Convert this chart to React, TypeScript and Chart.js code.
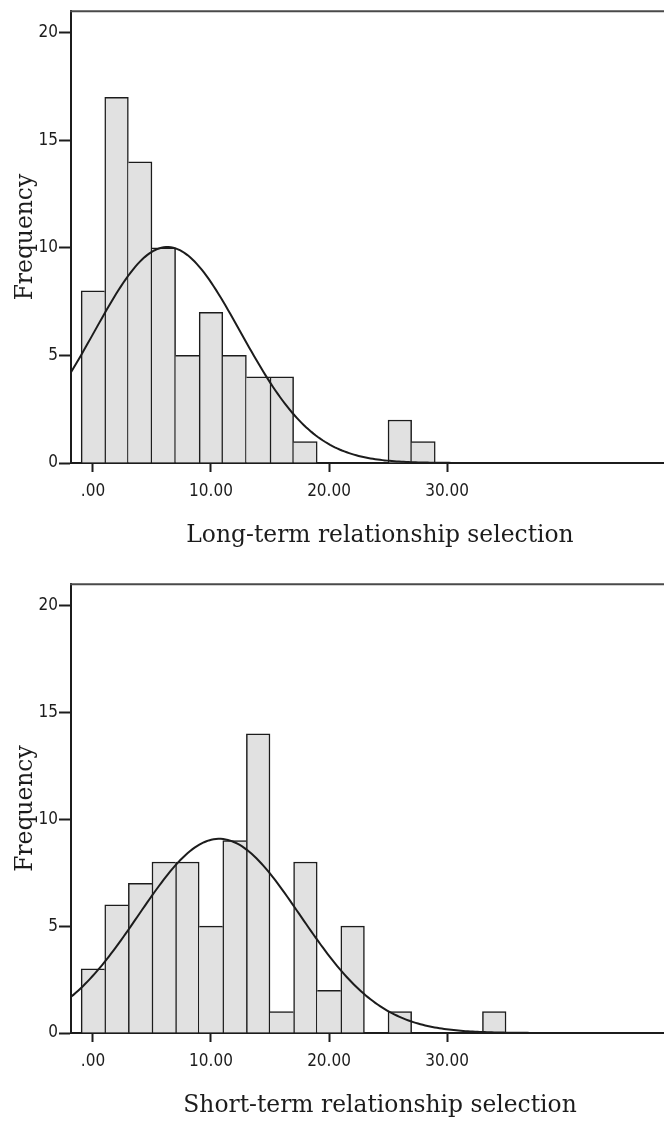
import { useEffect, useRef } from "react";
import { Chart, registerables } from "chart.js";

Chart.register(...registerables);

// Histogram bins are 2 units wide and centred on even values.
const binWidth = 2;

const longBinCenters = [0, 2, 4, 6, 8, 10, 12, 14, 16, 18, 26, 28];
const longCounts = [8, 17, 14, 10, 5, 7, 5, 4, 4, 1, 2, 1];
const longMean = 6.3;
const longSd = 6.2;

const shortBinCenters = [0, 2, 4, 6, 8, 10, 12, 14, 16, 18, 20, 22, 26, 34];
const shortCounts = [3, 6, 7, 8, 8, 5, 9, 14, 1, 8, 2, 5, 1, 1];
const shortMean = 10.7;
const shortSd = 6.85;

const xTickValues = [0, 10, 20, 30];
const xTickLabels = [".00", "10.00", "20.00", "30.00"];
const yTickValues = [0, 5, 10, 15, 20];

const X_MIN = -1.86;
const X_MAX = 50.5;
const Y_MAX = 21;

const TICK_FONT = '"Liberation Sans Narrow", "DejaVu Sans Condensed", "Arial Narrow", sans-serif';
const TITLE_FONT = '"DejaVu Serif", serif';
const INK = "#1c1c1c";
const EDGE = 1.5;

type Spec = {
  title: string;
  centers: number[];
  counts: number[];
  mean: number;
  sd: number;
  top: number;
  height: number;
  xAxisHeight: number;
  titleBottomPad: number;
};

// Expected frequency of a normal distribution scaled to the histogram.
function normalCurve(counts: number[], mean: number, sd: number) {
  const n = counts.reduce((a, b) => a + b, 0);
  const pts: { x: number; y: number }[] = [];
  const steps = 260;
  for (let i = 0; i <= steps; i++) {
    const x = X_MIN + ((X_MAX - X_MIN) * i) / steps;
    const z = (x - mean) / sd;
    const y = (n * binWidth * Math.exp(-0.5 * z * z)) / (sd * Math.sqrt(2 * Math.PI));
    pts.push({ x, y });
  }
  return pts;
}

// Top frame line of the plot box.
const frameTop = {
  id: "frameTop",
  afterDraw(chart: any) {
    const { ctx, chartArea, width } = chart;
    ctx.save();
    ctx.strokeStyle = "#4a4a4a";
    ctx.lineWidth = 2;
    ctx.beginPath();
    ctx.moveTo(chartArea.left - 1, chartArea.top);
    ctx.lineTo(width, chartArea.top);
    ctx.stroke();
    ctx.restore();
  },
};

function Histogram({ spec }: { spec: Spec }) {
  const ref = useRef<HTMLCanvasElement>(null);

  useEffect(() => {
    const { centers, counts } = spec;
    const heightAt = (c: number) => {
      const i = centers.indexOf(c);
      return i >= 0 ? counts[i] : -1;
    };
    const chart = new Chart(ref.current as HTMLCanvasElement, {
      type: "bar",
      data: {
        datasets: [
          {
            type: "line",
            data: normalCurve(counts, spec.mean, spec.sd),
            borderColor: INK,
            borderWidth: 2,
            pointRadius: 0,
            tension: 0,
            fill: false,
            order: 0,
          } as any,
          {
            type: "bar",
            data: centers.map((c, i) => ({ x: c, y: counts[i] })),
            backgroundColor: "#e1e1e1",
            borderColor: INK,
            borderSkipped: false,
            // The taller of two neighbouring bars draws their shared edge.
            borderWidth: (ctx: any) => {
              const c = centers[ctx.dataIndex];
              const h = counts[ctx.dataIndex];
              const prev = heightAt(c - binWidth);
              const next = heightAt(c + binWidth);
              return {
                top: EDGE,
                left: prev <= h ? EDGE : 0,
                right: next < h ? EDGE : 0,
                bottom: 0,
              };
            },
            barPercentage: 1,
            categoryPercentage: 1,
            order: 1,
          } as any,
        ],
      },
      options: {
        responsive: false,
        animation: false,
        events: [],
        devicePixelRatio: 1,
        layout: { padding: { top: 10, right: 11, left: 0, bottom: 0 } },
        plugins: { legend: { display: false }, tooltip: { enabled: false } },
        scales: {
          x: {
            type: "linear",
            min: X_MIN,
            max: X_MAX,
            offset: false,
            z: 1,
            afterBuildTicks: (axis: any) => {
              axis.ticks = xTickValues.map((v) => ({ value: v }));
            },
            afterFit: (axis: any) => {
              axis.height = spec.xAxisHeight;
            },
            grid: {
              offset: false,
              drawOnChartArea: false,
              drawTicks: true,
              tickLength: 9,
              tickColor: INK,
              tickWidth: 2,
            },
            border: { display: true, color: INK, width: 2 },
            ticks: {
              autoSkip: false,
              maxRotation: 0,
              padding: 9,
              color: INK,
              font: { family: TICK_FONT, size: 17 },
              callback: (v: any) => {
                const i = xTickValues.indexOf(Number(v));
                return i >= 0 ? xTickLabels[i] : "";
              },
            },
            title: {
              display: true,
              text: spec.title,
              color: INK,
              font: { family: TITLE_FONT, size: 23.4, lineHeight: 1 },
              padding: { top: 0, bottom: spec.titleBottomPad },
            },
          },
          y: {
            type: "linear",
            min: 0,
            max: Y_MAX,
            afterBuildTicks: (axis: any) => {
              axis.ticks = yTickValues.map((v) => ({ value: v }));
            },
            afterFit: (axis: any) => {
              axis.width = 71;
            },
            grid: {
              drawOnChartArea: false,
              drawTicks: true,
              tickLength: 12,
              tickColor: INK,
              tickWidth: 2,
            },
            border: { display: true, color: INK, width: 2 },
            ticks: {
              padding: 1,
              color: INK,
              font: { family: TICK_FONT, size: 17 },
            },
            title: {
              display: true,
              text: "Frequency",
              color: INK,
              font: { family: TITLE_FONT, size: 23.4, lineHeight: 1 },
              padding: { top: 14, bottom: 0 },
            },
          },
        },
      },
      plugins: [frameTop],
    } as any);
    return () => chart.destroy();
  }, [spec]);

  return (
    <canvas
      ref={ref}
      width={700}
      height={spec.height}
      style={{ position: "absolute", left: 0, top: spec.top, display: "block" }}
    />
  );
}

const longSpec: Spec = {
  title: "Long-term relationship selection",
  centers: longBinCenters,
  counts: longCounts,
  mean: longMean,
  sd: longSd,
  top: 0,
  height: 560,
  xAxisHeight: 97,
  titleBottomPad: 12,
};

const shortSpec: Spec = {
  title: "Short-term relationship selection",
  centers: shortBinCenters,
  counts: shortCounts,
  mean: shortMean,
  sd: shortSd,
  top: 573,
  height: 551,
  xAxisHeight: 91,
  titleBottomPad: 6,
};

export default function App() {
  return (
    <div
      style={{
        position: "absolute",
        left: 0,
        top: 0,
        width: 664,
        height: 1124,
        overflow: "hidden",
        background: "#fff",
      }}
    >
      <Histogram spec={longSpec} />
      <Histogram spec={shortSpec} />
    </div>
  );
}
